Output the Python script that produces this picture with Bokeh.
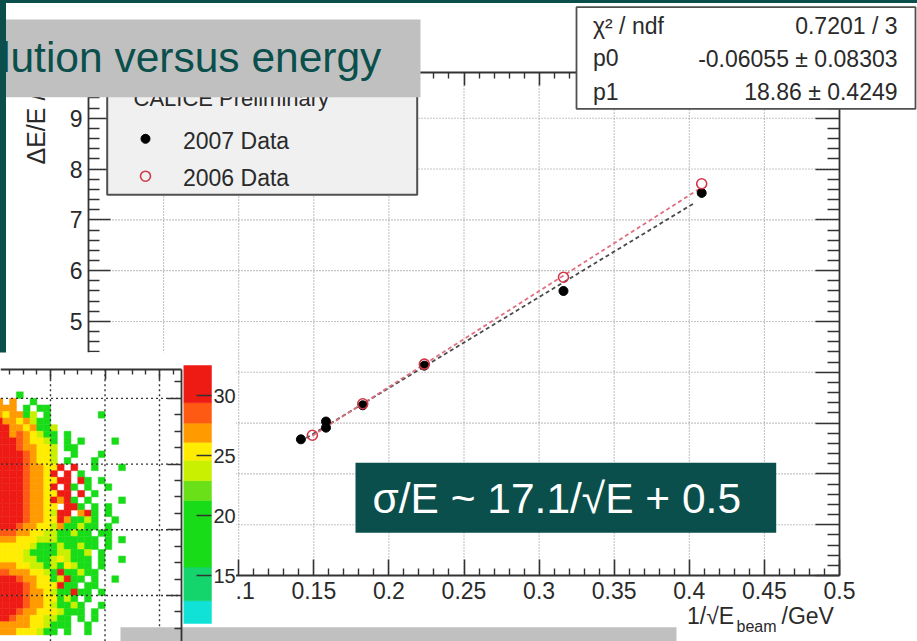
import numpy as np
from bokeh.plotting import figure
from bokeh.models import Range1d, LinearAxis, FixedTicker, PrintfTickFormatter, CustomJSTickFormatter
from bokeh.core.properties import value
from bokeh.embed import file_html
from bokeh.resources import INLINE

# ---------------- data ----------------
E_2007 = [50, 40, 40, 30, 20, 10, 6]                 # beam energy / GeV
RES_2007 = [2.68, 3.03, 2.91, 3.35, 4.13, 5.60, 7.53]
E_2006 = [45, 30, 20, 10, 6]
RES_2006 = [2.76, 3.38, 4.16, 5.87, 7.71]
FIT_2006 = [-0.06055, 18.86]          # p0, p1
FIT_2006_RANGE = [0.149, 0.408]
FIT_2007 = [0.11, 17.9]
FIT_2007_RANGE = [0.141, 0.403]

X_TICKS = [0.0, 0.05, 0.1, 0.15, 0.2, 0.25, 0.3, 0.35, 0.4, 0.45, 0.5]
Y_TICKS = [0, 1, 2, 3, 4, 5, 6, 7, 8, 9]
X_MIN, X_MAX = 0.0, 0.5
Y_MIN, Y_MAX = 0.0, 9.9

LEGEND_HEADER = "CALICE Preliminary"
LEGEND_LABELS = ["2007 Data", "2006 Data"]
STATS_LABELS = ["\u03c7\u00b2 / ndf", "p0", "p1"]
STATS_VALUES = ["0.7201 / 3", "-0.06055 \u00b1 0.08303", "18.86 \u00b1 0.4249"]
TITLE_TEXT = "lution versus energy"
FORMULA_TEXT = "\u03c3/E ~ 17.1/\u221aE + 0.5"

# inset (2D histogram + palette)
CB_TICKS = [15, 20, 25, 30]
CB_LEVELS = [11.0, 12.9, 15.7, 21.25, 22.9, 24.6, 26.1, 27.7, 29.4, 32.5]
CB_COLORS = ["#10e2d8", "#14d46c", "#18dc18", "#6ae018", "#c8f000",
             "#ffec00", "#ff9a00", "#ff5a14", "#ee1a14"]
HEAT_CODES = {"g": 19.0, "l": 23.5, "y": 25.2, "o": 27.0, "O": 28.5, "r": 31.0}
HEAT_TOP_ROW = 42
HEAT_FIRST_COL = 0
HEAT_ROWS = [
    ".....................",
    ".....................",
    "...g.................",
    "o.o..g...............",
    "ooo.g.gg.............",
    "oyoogl.g.......g.....",
    "rooyolgg.............",
    "rrooyoggl............",
    "rroOoylgg.g..........",
    "rrrOoyylg.g.g....g...",
    "rrrOooyyl.gg.........",
    "rrrrOoyyl..g...g.....",
    "rrrrOoyyl.g...g......",
    "rrrrOooyyr.r..g...g..",
    "rrrrOooyr.r.g........",
    "rrrrOooyyrr.rg.g.....",
    "rrrrOooyr.rg.g..g....",
    "rrrrOooyyrr.r.g......",
    "rrrrOooyrorg.g....g..",
    "rrrrOooyy.rrg.g.g....",
    "rrrrOooylrr.org.g....",
    "rrrrOooyyrogglg..g...",
    "rrrOooyylogglgg.g....",
    "OOOooyyllgglgg.gg....",
    "oooyyylllgggggg.g.g..",
    "yyyyylggglgglgg.g....",
    "yyyylggggllggl.g.....",
    "yyyyllgglylggg.g..g..",
    "oooyyllglgylgg.g.....",
    "OOoooyylgrgglgg......",
    "rrrOooyyglrgg.g..g...",
    "rrrrOoyyyrgg.gg......",
    "rrrrOooylggrgg.g.....",
    "rrrrOooyyglg.g.......",
    "rrrrOooylgglg..g.....",
    "rrrOooyyylggg.g......",
    "rrOooyyllgg.g.g......",
    "oooooyylggg..g.......",
    "oooyyylgg.g..g.......",
]

# ---------------- styles ----------------
FONT_NAME = "Liberation Sans"
FONT = value(FONT_NAME)
TEAL = "#0a4f4b"
GRAY_BOX = "#c0c0c0"
INK = "#2a2a2a"
RED = "#d03848"

# canvas covers the reference picture pixel-for-pixel
W, H = 917, 641
PX0, PY0 = 0, 0


def lin_range(v_a, px_a, v_b, px_b, lo_px, hi_px):
    k = (v_b - v_a) / (px_b - px_a)
    return Range1d(v_a + (lo_px - px_a) * k, v_a + (hi_px - px_a) * k)


p = figure(width=W, height=H, x_range=Range1d(PX0, PX0 + W), y_range=Range1d(PY0 + H, PY0),
           x_axis_type=None, y_axis_type=None, toolbar_location=None, output_backend="svg",
           min_border=0, outline_line_color=None, title=None,
           background_fill_color="white", border_fill_color="white")

p.extra_x_ranges = {
    "mx": lin_range(X_MIN, 88, X_MAX, 839, PX0, PX0 + W),
    "hx": lin_range(1.0, 50, 2.0, 104.5, PX0, PX0 + W),
}
p.extra_y_ranges = {
    "my": lin_range(Y_MIN, 575, Y_MAX, 72, PY0 + H, PY0),
    "hy": lin_range(1.0, 595, 2.0, 529.3, PY0 + H, PY0),
    "cb": lin_range(30.0, 395, 25.0, 455, PY0 + H, PY0),
}
M = dict(x_range_name="mx", y_range_name="my")
HI = dict(x_range_name="hx", y_range_name="hy")
TXT = dict(text_font=FONT, text_baseline="middle")

# ---------------- main chart ----------------
gx = X_TICKS[1:-1]
p.segment(x0=gx, x1=gx, y0=[Y_MIN] * len(gx), y1=[Y_MAX] * len(gx),
          line_color="#8a8a8a", line_width=1.1, line_dash="1 2", **M)
gy = Y_TICKS[1:]
p.segment(x0=[X_MIN] * len(gy), x1=[X_MAX] * len(gy), y0=gy, y1=gy,
          line_color="#8a8a8a", line_width=1.1, line_dash="1 2", **M)

fx06 = FIT_2006_RANGE
fy06 = [FIT_2006[0] + FIT_2006[1] * x for x in fx06]
fx07 = FIT_2007_RANGE
fy07 = [FIT_2007[0] + FIT_2007[1] * x for x in fx07]
p.line(fx07, fy07, line_color="#4a4a4a", line_width=1.8, line_dash="4 3", **M)
p.line(fx06, fy06, line_color="#e07080", line_width=1.8, line_dash="4 3", **M)

x07 = [1.0 / np.sqrt(e) for e in E_2007]
x06 = [1.0 / np.sqrt(e) for e in E_2006]
p.scatter(x07, RES_2007, marker="circle", size=9, fill_color="black", line_color="black", **M)
p.scatter(x06, RES_2006, marker="circle", size=10, fill_color=None, line_color=RED,
          line_width=1.6, **M)

hide = CustomJSTickFormatter(code="return ''")
x_minor = [k / 100 for k in range(0, 51) if k % 5]
y_minor = [k / 5 for k in range(0, 50) if k % 5]
axis_style = dict(axis_line_color="#333333", axis_line_width=1.8,
                  major_tick_line_color="#333333", major_tick_line_width=1.6,
                  minor_tick_line_color="#333333", minor_tick_line_width=1.4,
                  major_tick_out=0, minor_tick_out=0,
                  major_label_text_font=FONT_NAME, major_label_text_color=INK,
                  major_label_text_font_size="23px")

ax_b = LinearAxis(fixed_location=Y_MIN, bounds=(X_MIN, X_MAX),
                  ticker=FixedTicker(ticks=X_TICKS, minor_ticks=x_minor),
                  formatter=PrintfTickFormatter(format="%g"),
                  major_tick_in=16, minor_tick_in=7, major_label_standoff=6, **axis_style, **M)
p.add_layout(ax_b, "below")
ax_t = LinearAxis(fixed_location=Y_MAX, bounds=(X_MIN, X_MAX),
                  ticker=FixedTicker(ticks=X_TICKS, minor_ticks=x_minor), formatter=hide,
                  major_tick_in=13, minor_tick_in=6, **axis_style, **M)
p.add_layout(ax_t, "above")
ax_l = LinearAxis(fixed_location=X_MIN, bounds=(Y_MIN, Y_MAX),
                  ticker=FixedTicker(ticks=Y_TICKS, minor_ticks=y_minor),
                  formatter=PrintfTickFormatter(format="%g"),
                  major_tick_in=22, minor_tick_in=11, major_label_standoff=6, **axis_style, **M)
p.add_layout(ax_l, "left")
ax_r = LinearAxis(fixed_location=X_MAX, bounds=(Y_MIN, Y_MAX),
                  ticker=FixedTicker(ticks=Y_TICKS, minor_ticks=y_minor), formatter=hide,
                  major_tick_in=24, minor_tick_in=12, **axis_style, **M)
p.add_layout(ax_r, "right")

# x axis title 1/sqrt(E_beam) /GeV
p.text(x=[686.5], y=[615], text=["1/\u221aE"], text_font_size="23px", text_color=INK, **TXT)
p.text(x=[736], y=[625.5], text=["beam"], text_font_size="16px", text_color=INK, **TXT)
p.text(x=[781], y=[615], text=["/GeV"], text_font_size="23px", text_color=INK, **TXT)

A = dict(level="annotation")
p.text(x=[35], y=[164], text=["\u0394E/E /"], angle=np.pi / 2, text_font_size="25px",
       text_color=INK, text_align="left", **TXT, **A)

# legend
p.quad(left=[106.7], right=[416.7], top=[70], bottom=[194.3], fill_color="#f0f0f0",
       line_color="#505050", line_width=2, **A)
p.text(x=[133], y=[97.9], text=[LEGEND_HEADER], text_font_size="22px", text_color=INK, **TXT, **A)
p.scatter(x=[145], y=[138.3], marker="circle", size=9, fill_color="black", line_color="black", **A)
p.scatter(x=[145], y=[175.7], marker="circle", size=10, fill_color=None, line_color=RED,
          line_width=1.6, **A)
p.text(x=[182.5, 182.5], y=[140.3, 177.5], text=LEGEND_LABELS, text_font_size="23px",
       text_color=INK, **TXT, **A)

# fit statistics box
p.quad(left=[576], right=[915], top=[6.7], bottom=[108.3], fill_color="white",
       line_color="#505050", line_width=1.8, **A)
p.text(x=[592.5] * 3, y=[25, 57.5, 91.5], text=STATS_LABELS, text_font_size="23px",
       text_color=INK, **TXT, **A)
p.text(x=[897] * 3, y=[25.5, 58, 91.5], text=STATS_VALUES, text_font_size="23px",
       text_color=INK, text_align="right", **TXT, **A)

# slide title box
p.quad(left=[-5], right=[420], top=[19], bottom=[96.7], fill_color=GRAY_BOX, line_color=None, **A)
p.text(x=[0.5], y=[57], text=[TITLE_TEXT], text_font_size="42.5px", text_color=TEAL, **TXT, **A)

# ---------------- inset 2D histogram ----------------
p.quad(left=[-5], right=[235.5], top=[351.7], bottom=[650], fill_color="white", line_color=None, **A)

hx_c, hy_c, h_col = [], [], []
for k, row in enumerate(HEAT_ROWS):
    i = HEAT_TOP_ROW - k
    for j, ch in enumerate(row, start=HEAT_FIRST_COL):
        if ch in HEAT_CODES:
            v = HEAT_CODES[ch]
            idx = int(np.clip(np.digitize(v, CB_LEVELS) - 1, 0, len(CB_COLORS) - 1))
            hx_c.append((j + 0.5) / 8)
            hy_c.append((i + 0.5) / 10)
            h_col.append(CB_COLORS[idx])
p.rect(x=hx_c, y=hy_c, width=1 / 8, height=1 / 10, fill_color=h_col, line_color=h_col,
       line_width=0.5, **HI, **A)

IN_X_TICKS = [1, 2, 3]
IN_Y_TICKS = [1, 2, 3, 4]
IN_X_MAX = 3.404
IN_Y_MAX = 4.44
p.segment(x0=IN_X_TICKS, x1=IN_X_TICKS, y0=[0.0] * 3, y1=[IN_Y_MAX] * 3,
          line_color="#333333", line_width=1.4, line_dash="2 3", **HI, **A)
p.segment(x0=[0] * 4, x1=[IN_X_MAX] * 4, y0=IN_Y_TICKS, y1=IN_Y_TICKS,
          line_color="#333333", line_width=1.4, line_dash="2 3", **HI, **A)

p.quad(left=[183.3] * len(CB_COLORS), right=[211] * len(CB_COLORS),
       bottom=CB_LEVELS[:-1], top=CB_LEVELS[1:], fill_color=CB_COLORS, line_color=CB_COLORS,
       line_width=0.5, y_range_name="cb", **A)

in_style = dict(axis_line_color="#333333", axis_line_width=1.8,
                major_tick_line_color="#333333", major_tick_line_width=1.6,
                minor_tick_line_color="#333333", minor_tick_line_width=1.4,
                major_tick_out=0, minor_tick_out=0, level="overlay")
ax_it = LinearAxis(fixed_location=IN_Y_MAX, bounds=(0, IN_X_MAX), formatter=hide,
                   ticker=FixedTicker(ticks=IN_X_TICKS, minor_ticks=[k / 4 for k in range(0, 14) if k % 4]),
                   major_tick_in=10, minor_tick_in=5, **in_style, **HI)
p.add_layout(ax_it, "above")
ax_ir = LinearAxis(fixed_location=IN_X_MAX, bounds=(0.0, IN_Y_MAX), formatter=hide,
                   ticker=FixedTicker(ticks=IN_Y_TICKS, minor_ticks=[k / 4 for k in range(1, 18) if k % 4]),
                   major_tick_in=14, minor_tick_in=7, **in_style, **HI)
p.add_layout(ax_ir, "right")
ax_cb = LinearAxis(fixed_location=211, bounds=(CB_LEVELS[0], CB_LEVELS[-1]), y_range_name="cb",
                   ticker=FixedTicker(ticks=CB_TICKS), formatter=PrintfTickFormatter(format="%d"),
                   axis_line_color=None, major_tick_line_color="#333333", major_tick_line_width=1.6,
                   major_tick_in=15, major_tick_out=0, minor_tick_line_color=None,
                   major_label_text_font=FONT_NAME, major_label_text_font_size="20px",
                   major_label_text_color=INK, major_label_standoff=2, level="overlay")
p.add_layout(ax_cb, "right")

# ---------------- slide overlays ----------------
p.quad(left=[355], right=[775.7], top=[462.3], bottom=[532.3], fill_color=TEAL, line_color=None, **A)
p.text(x=[372], y=[498], text=[FORMULA_TEXT], text_font_size="42.5px", text_color="white", **TXT, **A)
p.quad(left=[120], right=[676], top=[626.7], bottom=[650], fill_color=GRAY_BOX, line_color=None, **A)
p.quad(left=[-5], right=[5.5], top=[-5], bottom=[352], fill_color=TEAL, line_color=None, **A)
p.quad(left=[-5], right=[922], top=[-5], bottom=[2.5], fill_color=TEAL, line_color=None, **A)

open("out.html", "w").write(file_html(p, INLINE, title="Resolution versus energy"))
